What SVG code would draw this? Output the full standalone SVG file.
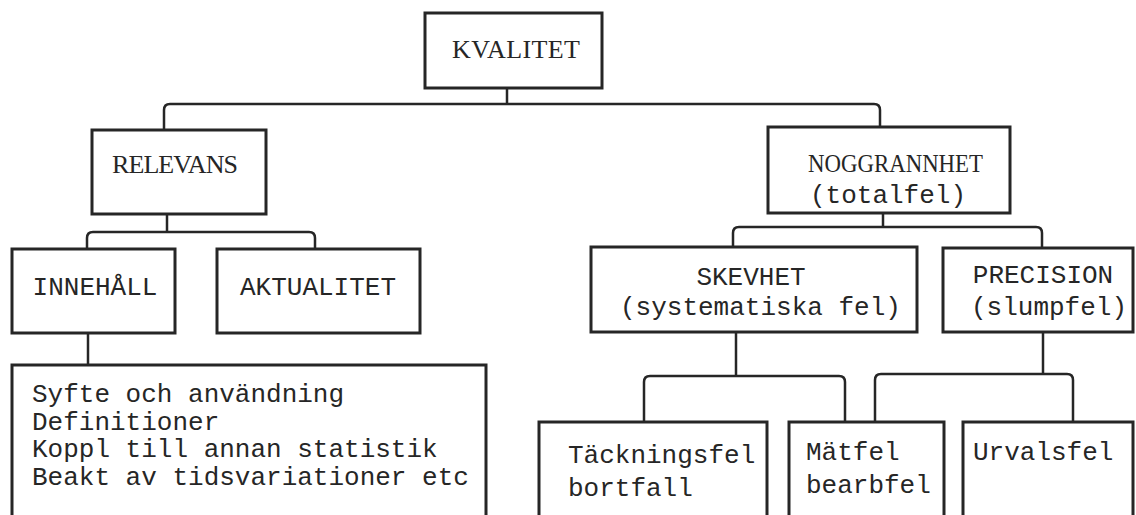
<svg xmlns="http://www.w3.org/2000/svg" width="1136" height="515" viewBox="0 0 1136 515">
<style>
.box{fill:#fff;stroke:#262626;stroke-width:3}
.con{fill:none;stroke:#262626;stroke-width:2.5}
.serif{font-family:"Liberation Serif","Times New Roman",serif;font-size:26px;fill:#262626}
.mono{font-family:"Liberation Mono","Courier New",monospace;font-size:26px;fill:#262626}
.c{text-anchor:middle}
</style>
<rect width="1136" height="515" fill="#fff"/>
<g id="connectors">
<path class="con" d="M507,88 V104"/>
<path class="con" d="M164,130 V110 Q164,104 170,104 H874 Q880,104 880,110 V127"/>
<path class="con" d="M167,214 V232"/>
<path class="con" d="M87,249 V238 Q87,232 93,232 H309 Q315,232 315,238 V249"/>
<path class="con" d="M88,333 V365"/>
<path class="con" d="M883,213 V227"/>
<path class="con" d="M733,247 V233 Q733,227 739,227 H1036 Q1042,227 1042,233 V248"/>
<path class="con" d="M736,332 V376"/>
<path class="con" d="M644,422 V382 Q644,376 650,376 H839 Q845,376 845,382 V422"/>
<path class="con" d="M1043,332 V374"/>
<path class="con" d="M875,422 V380 Q875,374 881,374 H1067 Q1073,374 1073,380 V422"/>
</g>
<g id="kvalitet">
<rect class="box" x="425" y="13" width="177" height="75"/>
<text class="serif" x="452" y="58" textLength="128">KVALITET</text>
</g>
<g id="relevans">
<rect class="box" x="92" y="130" width="174" height="84"/>
<text class="serif" x="112" y="173" textLength="126">RELEVANS</text>
</g>
<g id="noggrannhet">
<rect class="box" x="768" y="127" width="242" height="86"/>
<text class="serif" x="808" y="172" textLength="175" lengthAdjust="spacingAndGlyphs">NOGGRANNHET</text>
<text class="mono c" x="888" y="203">(totalfel)</text>
</g>
<g id="innehall">
<rect class="box" x="12" y="249" width="163" height="84"/>
<text class="mono c" x="95" y="295">INNEHÅLL</text>
</g>
<g id="aktualitet">
<rect class="box" x="217" y="249" width="203" height="84"/>
<text class="mono c" x="318" y="295">AKTUALITET</text>
</g>
<g id="skevhet">
<rect class="box" x="591" y="247" width="326" height="85"/>
<text class="mono c" x="751" y="285">SKEVHET</text>
<text class="mono" x="620" y="315">(systematiska fel)</text>
</g>
<g id="precision">
<rect class="box" x="943" y="248" width="190" height="84"/>
<text class="mono c" x="1043" y="283">PRECISION</text>
<text class="mono c" x="1049" y="315">(slumpfel)</text>
</g>
<g id="innehall-detaljer">
<rect class="box" x="12" y="365" width="474" height="160"/>
<text class="mono" x="32" y="402">Syfte och användning</text>
<text class="mono" x="32" y="430">Definitioner</text>
<text class="mono" x="32" y="457">Koppl till annan statistik</text>
<text class="mono" x="32" y="485">Beakt av tidsvariationer etc</text>
</g>
<g id="tackningsfel">
<rect class="box" x="539" y="422" width="228" height="103"/>
<text class="mono" x="568" y="463">Täckningsfel</text>
<text class="mono" x="568" y="496">bortfall</text>
</g>
<g id="matfel">
<rect class="box" x="789" y="422" width="155" height="103"/>
<text class="mono" x="806" y="460">Mätfel</text>
<text class="mono" x="806" y="493">bearbfel</text>
</g>
<g id="urvalsfel">
<rect class="box" x="963" y="422" width="170" height="103"/>
<text class="mono" x="973" y="460">Urvalsfel</text>
</g>
</svg>
